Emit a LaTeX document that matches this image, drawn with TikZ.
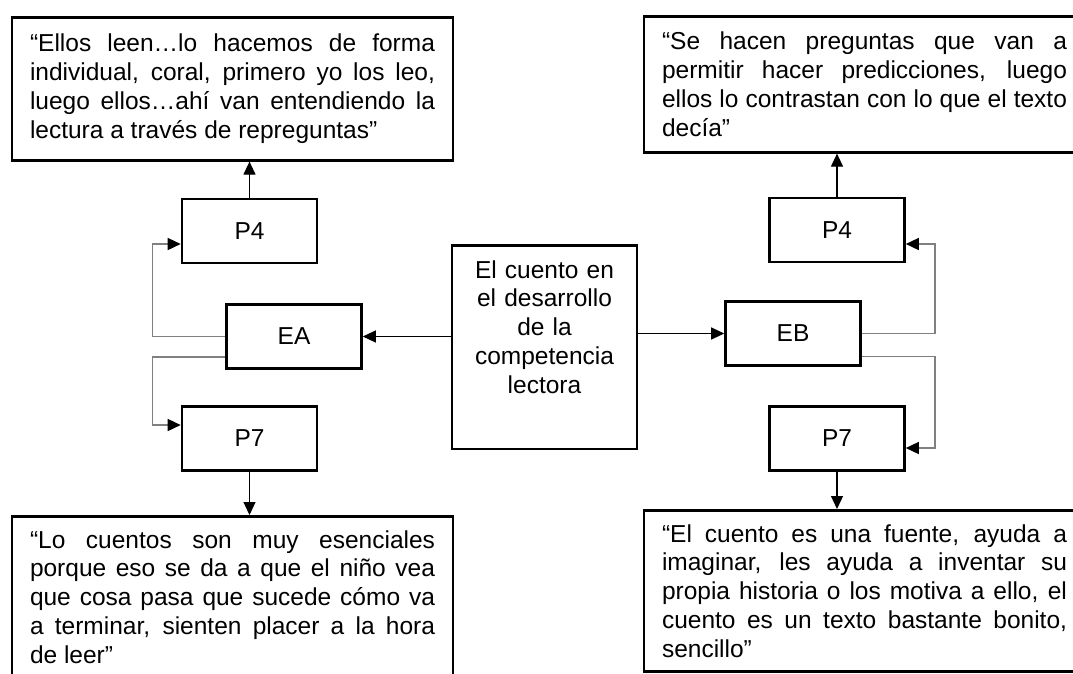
\documentclass[tikz,border=0pt]{standalone}
\usepackage{fontspec}
\setmainfont{Liberation Sans}
\usetikzlibrary{arrows.meta}
\tolerance=10000
\hyphenpenalty=10000

\begin{document}
\begin{tikzpicture}[x=1pt,y=-1pt,
  letra/.style={font=\fontsize{24.5}{28.8}\selectfont},
  caja/.style={draw,letra,line width=2.6pt,minimum width=135pt,minimum height=64pt},
  cita/.style={draw,letra,line width=2.6pt,anchor=north,text width=405pt,
    inner xsep=18pt,inner ysep=14pt,align=justify},
  flecha/.style={-{Triangle[length=13pt,width=12pt]},line width=1.2pt},
  lazo/.style={-{Triangle[length=13pt,width=12pt,color=black]},line width=1.5pt,gray}]
\useasboundingbox (0,0) rectangle (1073,673);
\clip (0,0) rectangle (1073,673);
% tema central
\node[draw,letra,line width=2.6pt,anchor=north,text width=150pt,inner xsep=17.5pt,
  inner ysep=15pt,align=center,text depth=156pt] (tema) at (544.5,244)
  {El cuento en\\el desarrollo\\de la\\competencia\\lectora};
% cajas pequenas
\foreach \nombre/\x/\y/\texto in {pa/249.5/231/P4, ea/294/336.5/EA, sa/249.5/438.5/P7,
  pb/837/230/P4, eb/793/333.5/EB, sb/837/438.5/P7}
  \node[caja] (\nombre) at (\x,\y) {\texto};
% citas
\node[cita,minimum height=143pt] (q1) at (232.5,16)
  {“Ellos leen…lo hacemos de forma\linebreak
  individual, coral, primero yo los leo,\linebreak
  luego ellos…ahí van entendiendo la\linebreak
  lectura a través de repreguntas”};
\node[cita,minimum height=136pt] (q2) at (864.5,15)
  {“Se hacen preguntas que van a\linebreak
  permitir hacer predicciones, luego\linebreak
  ellos lo contrastan con lo que el texto\linebreak
  decía”};
\node[cita] (q3) at (232.5,515)
  {“Lo cuentos son muy esenciales\linebreak
  porque eso se da a que el niño vea\linebreak
  que cosa pasa que sucede cómo va\linebreak
  a terminar, sienten placer a la hora\linebreak
  de leer”};
\node[cita] (q4) at (864.5,509)
  {“El cuento es una fuente, ayuda a\linebreak
  imaginar, les ayuda a inventar su\linebreak
  propia historia o los motiva a ello, el\linebreak
  cuento es un texto bastante bonito,\linebreak
  sencillo”};
% flechas
\draw[flecha] (ea.east -| tema.west) -- (ea.east);
\draw[flecha] (eb.west -| tema.east) -- (eb.west);
\draw[lazo] (ea.west) -| ([xshift=-28pt,yshift=-13pt]pa.west) -- ([yshift=-13pt]pa.west);
\draw[lazo] ([yshift=-20.5pt]ea.west) -| ([xshift=-28pt,yshift=13.5pt]sa.west) -- ([yshift=13.5pt]sa.west);
\draw[lazo] (eb.east) -| ([xshift=29pt,yshift=-14pt]pb.east) -- ([yshift=-14pt]pb.east);
\draw[lazo] ([yshift=-23pt]eb.east) -| ([xshift=29pt,yshift=-9.5pt]sb.east) -- ([yshift=-9.5pt]sb.east);
\draw[flecha] (pa.north) -- (pa.north |- q1.south);
\draw[flecha] (sa.south) -- (sa.south |- q3.north);
\draw[flecha] (pb.north) -- (pb.north |- q2.south);
\draw[flecha] (sb.south) -- (sb.south |- q4.north);
\end{tikzpicture}
\end{document}
